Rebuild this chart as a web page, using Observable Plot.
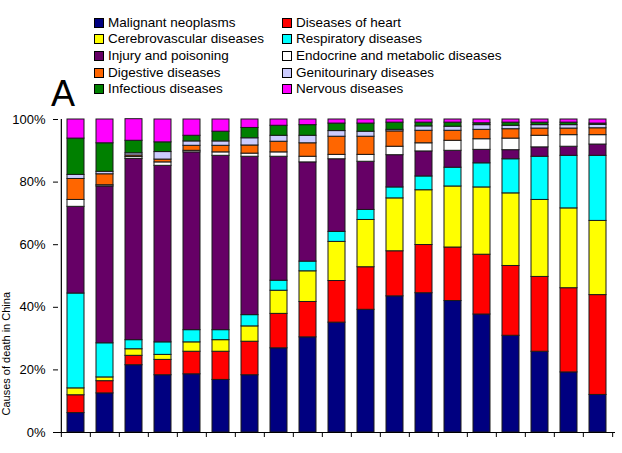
<!DOCTYPE html>
<html>
<head>
<meta charset="utf-8">
<script src="https://cdn.jsdelivr.net/npm/d3@7"></script>
<script src="https://cdn.jsdelivr.net/npm/@observablehq/plot@0.6"></script>
<style>
  html, body { margin: 0; padding: 0; background: #fff; }
  body { width: 622px; height: 453px; position: relative; overflow: hidden; font-family: "Liberation Sans", Arial, sans-serif; color: #000; }
  #legend { position: absolute; left: 0; top: 0; width: 622px; height: 110px; }
  .item { position: absolute; display: flex; align-items: center; font-size: 13.5px; line-height: 16px; white-space: nowrap; }
  .sw { width: 10px; height: 10px; box-sizing: border-box; border: 1px solid #000; margin-right: 4px; }
  #panel { position: absolute; left: 51px; top: 76px; font-size: 36px; line-height: 36px; }
  #chart { position: absolute; left: 0; top: 110px; }
  #ylab { position: absolute; left: 0; top: 0; }
</style>
</head>
<body>
<div id="legend"></div>
<div id="panel">A</div>
<div id="chart"></div>
<svg id="ylab" width="622" height="453"><text id="ylabtext" font-size="11" font-family="Liberation Sans, Arial, sans-serif" text-anchor="end"></text></svg>
<script>
const ages = ["<1","1-4","5-9","10-14","15-19","20-24","25-29","30-34","35-39","40-44","45-49","50-54","55-59","60-64","65-69","70-74","75-79","80-84","85+"];
const causes = ["Malignant neoplasms","Diseases of heart","Cerebrovascular diseases","Respiratory diseases","Injury and poisoning","Endocrine and metabolic diseases","Digestive diseases","Genitourinary diseases","Infectious diseases","Nervous diseases"];
const colors = ["#000080","#ff0000","#ffff00","#00ffff","#660066","#ffffff","#ff6600","#ccccff","#008000","#ff00ff"];
const yTicks = [0, 20, 40, 60, 80, 100];
const yLabel = "Causes of death in China";

const malignant  = [6.2,12.5,21.5,18.3,18.6,16.8,18.3,26.9,30.4,35.1,39.2,43.5,44.5,42.0,37.7,30.9,25.8,19.2,12.0];
const heart      = [5.7,3.9,3.0,4.9,7.2,9.0,10.7,11.0,11.3,13.3,13.6,14.4,15.4,17.1,19.1,22.3,23.9,26.9,31.9];
const cerebro    = [2.2,1.2,2.1,1.6,3.0,3.7,4.9,7.4,9.8,12.5,15.1,16.9,17.5,19.5,21.5,23.2,24.6,25.5,23.7];
const respiratory= [30.3,10.9,2.9,4.0,3.9,3.2,3.6,3.2,3.1,3.2,3.2,3.5,4.4,6.0,7.7,10.9,13.8,16.8,20.8];
const injury     = [27.7,50.1,57.9,56.4,56.8,55.7,50.6,39.6,31.7,23.2,15.4,10.3,8.0,5.4,4.3,2.9,3.0,2.9,3.6];
const endocrine  = [2.2,0.4,0.6,1.1,0.5,1.1,1.0,1.4,1.8,1.4,2.2,2.7,2.6,3.2,3.4,3.7,3.7,3.7,3.0];
const digestive  = [6.7,3.5,0.5,0.9,1.6,2.1,2.6,3.4,4.3,5.8,5.8,4.9,4.0,3.2,3.0,3.0,2.3,2.1,2.2];
const genito     = [1.3,0.8,0.7,2.4,1.4,1.4,2.3,1.9,2.4,1.8,1.6,0.5,1.4,1.3,1.5,1.1,1.1,1.1,1.1];
const infectious = [11.6,9.1,4.0,3.1,1.8,3.1,3.3,3.2,3.4,2.4,2.6,2.3,1.2,1.3,0.6,1.0,0.8,0.8,0.4];
const nervous    = [6.1,7.6,6.9,7.3,5.2,3.9,2.7,2.0,1.8,1.3,1.3,1.0,1.0,1.0,1.2,1.0,1.0,1.0,1.3];

const series = [malignant, heart, cerebro, respiratory, injury, endocrine, digestive, genito, infectious, nervous];

// long table, cause order within each age = stacking order (bottom to top)
const data = [];
ages.forEach((age, j) => {
  causes.forEach((cause, i) => data.push({age, cause, value: series[i][j]}));
});

// Legend (HTML)
const legend = document.getElementById("legend");
causes.forEach((c, i) => {
  const col = i % 2, row = Math.floor(i / 2);
  const it = document.createElement("div");
  it.className = "item";
  it.style.left = (col ? 282 : 94) + "px";
  it.style.top = (14.5 + row * 16.7) + "px";
  const sw = document.createElement("div");
  sw.className = "sw";
  sw.style.background = colors[i];
  const tx = document.createElement("span");
  tx.textContent = c;
  it.appendChild(sw); it.appendChild(tx);
  legend.appendChild(it);
});

const W = 622, H = 343, ML = 58, MR = 7;
const step = (W - ML - MR) / ages.length;

const chart = Plot.plot({
  width: W,
  height: H,
  marginTop: 9,
  marginBottom: 21,
  marginLeft: ML,
  marginRight: MR,
  x: {domain: ages, paddingInner: 0.41, paddingOuter: 0.205, label: null, axis: null},
  y: {domain: [0, 100], label: null, axis: null},
  color: {domain: causes, range: colors},
  style: {fontFamily: "Liberation Sans, Arial, sans-serif", fontSize: "13px", color: "#000", background: "transparent"},
  marks: [
    Plot.barY(data, {x: "age", y: "value", fill: "cause", stroke: "#1a1a1a", strokeWidth: 1}),
    Plot.axisY({ticks: yTicks, tickFormat: d => d + "%", tickSize: 5, tickPadding: 8, fontSize: 13, label: null}),
    Plot.axisX({ticks: ages, tickSize: 5, tickFormat: () => "", dx: -step / 2, label: null}),
    Plot.axisX({ticks: [ages[ages.length - 1]], tickSize: 5, tickFormat: () => "", dx: step / 2, label: null}),
    Plot.ruleY([0], {stroke: "#000", strokeWidth: 1.2}),
    Plot.ruleX([ages[0]], {dx: -step / 2, stroke: "#000", strokeWidth: 1.2})
  ]
});
document.getElementById("chart").appendChild(chart);

const yl = document.getElementById("ylabtext");
yl.textContent = yLabel;
yl.setAttribute("transform", "translate(10,292) rotate(-90)");
</script>
</body>
</html>
